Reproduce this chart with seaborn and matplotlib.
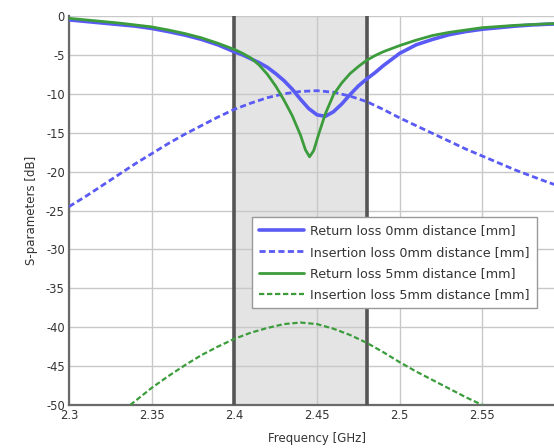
import numpy as np
import pandas as pd
import matplotlib
matplotlib.use("Agg")
import matplotlib.pyplot as plt
import seaborn as sns

# Frequency sweep points [GHz] and measured S-parameters [dB]
freq_rl0 = [2.30, 2.31, 2.32, 2.33, 2.34, 2.35, 2.36, 2.37, 2.38, 2.39, 2.40, 2.405,
            2.41, 2.415, 2.42, 2.425, 2.43, 2.435, 2.44, 2.445, 2.45, 2.455, 2.46, 2.465,
            2.47, 2.475, 2.48, 2.485, 2.49, 2.495, 2.50, 2.51, 2.52, 2.53, 2.54, 2.55,
            2.56, 2.57, 2.58, 2.59, 2.60]
return_loss_0mm = [-0.5, -0.7, -0.9, -1.1, -1.3, -1.6, -2.0, -2.45, -3.0, -3.7, -4.6, -5.0,
                   -5.5, -6.0, -6.6, -7.4, -8.3, -9.4, -10.7, -11.9, -12.7, -12.9, -12.3, -11.3,
                   -10.1, -9.0, -8.1, -7.3, -6.4, -5.6, -4.8, -3.7, -3.0, -2.4, -2.0, -1.7,
                   -1.5, -1.3, -1.15, -1.05, -1.0]

freq_rl5 = [2.30, 2.31, 2.32, 2.33, 2.34, 2.35, 2.36, 2.37, 2.38, 2.39, 2.40, 2.405,
            2.41, 2.415, 2.42, 2.425, 2.43, 2.435, 2.44, 2.443, 2.4455, 2.448, 2.451, 2.455,
            2.46, 2.465, 2.47, 2.475, 2.48, 2.485, 2.49, 2.50, 2.51, 2.52, 2.53, 2.54,
            2.55, 2.56, 2.57, 2.58, 2.59, 2.60]
return_loss_5mm = [-0.3, -0.5, -0.7, -0.9, -1.15, -1.4, -1.8, -2.25, -2.8, -3.5, -4.3, -4.8,
                   -5.4, -6.3, -7.5, -9.0, -10.8, -12.8, -15.3, -17.2, -18.1, -17.3, -15.2, -12.6,
                   -10.1, -8.6, -7.4, -6.5, -5.7, -5.1, -4.6, -3.8, -3.1, -2.5, -2.1, -1.8,
                   -1.5, -1.35, -1.2, -1.1, -1.0, -0.95]

freq_il0 = [2.30, 2.31, 2.32, 2.33, 2.34, 2.35, 2.36, 2.37, 2.38, 2.39, 2.40, 2.41,
            2.42, 2.43, 2.44, 2.45, 2.46, 2.47, 2.48, 2.49, 2.50, 2.51, 2.52, 2.53,
            2.54, 2.55, 2.56, 2.57, 2.58, 2.59, 2.60]
insertion_loss_0mm = [-24.5, -23.2, -21.8, -20.4, -19.0, -17.7, -16.4, -15.2, -14.1, -13.0,
                      -12.0, -11.2, -10.5, -10.0, -9.7, -9.6, -9.8, -10.3, -11.0, -12.0,
                      -13.1, -14.1, -15.1, -16.1, -17.1, -18.0, -18.9, -19.8, -20.6, -21.4,
                      -22.1]

freq_il5 = [2.337, 2.34, 2.35, 2.36, 2.37, 2.38, 2.39, 2.40, 2.41, 2.42, 2.43, 2.44,
            2.45, 2.46, 2.47, 2.48, 2.49, 2.50, 2.51, 2.52, 2.53, 2.54, 2.55]
insertion_loss_5mm = [-50.0, -49.5, -47.8, -46.3, -44.9, -43.6, -42.5, -41.5, -40.7, -40.1,
                      -39.6, -39.4, -39.6, -40.2, -41.0, -42.0, -43.2, -44.5, -45.7, -46.8,
                      -47.9, -49.0, -50.0]

labels = ["Return loss 0mm distance [mm]",
          "Insertion loss 0mm distance [mm]",
          "Return loss 5mm distance [mm]",
          "Insertion loss 5mm distance [mm]"]

band_edges = [2.4, 2.48]
x_ticks = [2.3, 2.35, 2.4, 2.45, 2.5, 2.55]
x_tick_labels = ["2.3", "2.35", "2.4", "2.45", "2.5", "2.55"]
y_ticks = [0, -5, -10, -15, -20, -25, -30, -35, -40, -45, -50]

df = pd.concat([
    pd.DataFrame({"f": freq_rl0, "s": return_loss_0mm, "trace": labels[0]}),
    pd.DataFrame({"f": freq_il0, "s": insertion_loss_0mm, "trace": labels[1]}),
    pd.DataFrame({"f": freq_rl5, "s": return_loss_5mm, "trace": labels[2]}),
    pd.DataFrame({"f": freq_il5, "s": insertion_loss_5mm, "trace": labels[3]}),
])

sns.set_style("white")
plt.rcParams["font.family"] = ["DejaVu Sans"]
plt.rcParams["axes.unicode_minus"] = False

fig = plt.figure(figsize=(5.54, 4.48), dpi=100)
ax = fig.add_axes([69 / 554, 1 - 405 / 448, 496 / 554, 389 / 448])

# ISM band shading and edges
ax.axvspan(band_edges[0], band_edges[1], color="#e4e4e4", zorder=0)
for b in band_edges:
    ax.axvline(b, color="#555555", lw=2.6, zorder=3)

blue = "#5a5af5"
green = "#3c9c3c"
styles = {
    labels[0]: dict(color=blue, lw=2.6, ls="-"),
    labels[1]: dict(color=blue, lw=2.0, ls=(0, (2.2, 1.2))),
    labels[2]: dict(color=green, lw=2.0, ls="-"),
    labels[3]: dict(color=green, lw=1.6, ls=(0, (2.4, 1.2))),
}
for lab in labels:
    sub = df[df["trace"] == lab]
    st = styles[lab]
    sns.lineplot(data=sub, x="f", y="s", ax=ax, color=st["color"], lw=st["lw"],
                 linestyle=st["ls"], label=lab, zorder=4, sort=False)

ax.set_xlim(2.3, 2.6)
ax.set_ylim(-50, 0)
ax.set_xticks(x_ticks)
ax.set_xticklabels(x_tick_labels)
ax.set_yticks(y_ticks)
ax.grid(True, color="#c8c8c8", lw=1.0, zorder=1)
ax.set_axisbelow(True)
ax.tick_params(axis="both", labelsize=8.3, length=2, color="#555555", pad=1,
               labelcolor="#333333")
ax.set_xlabel("Frequency [GHz]", fontsize=8.5, labelpad=7, color="#333333")
ax.set_ylabel("S-parameters [dB]", fontsize=8.5, labelpad=6, color="#333333")

for side in ["top", "right"]:
    ax.spines[side].set_visible(False)
for side in ["left", "bottom"]:
    ax.spines[side].set_color("#6a6a6a")
    ax.spines[side].set_linewidth(1.6)

leg = ax.legend(loc="upper left", bbox_to_anchor=(0.3695, 0.483), borderaxespad=0,
                fontsize=9.2, frameon=True, fancybox=False, handlelength=3.5,
                labelspacing=0.66, borderpad=0.55, handletextpad=0.5, framealpha=1.0)
leg.get_frame().set_edgecolor("#999999")
leg.get_frame().set_linewidth(1.0)
for t in leg.get_texts():
    t.set_color("#333333")
leg.set_zorder(6)

fig.savefig("out.png", dpi=100)
